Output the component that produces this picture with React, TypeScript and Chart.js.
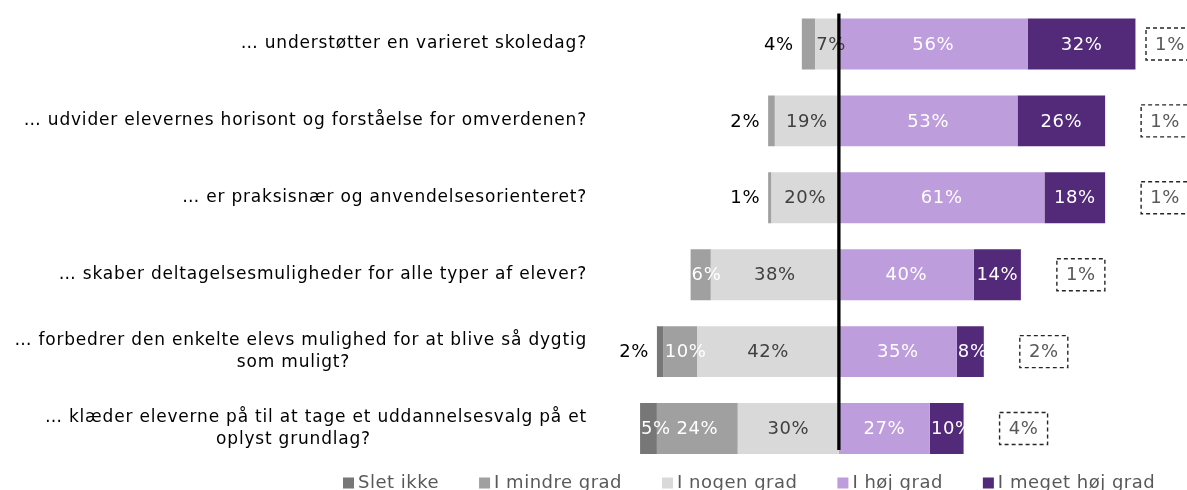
import React, { useEffect, useRef } from "react";
import { Chart, registerables } from "chart.js";

Chart.register(...registerables);

const categories: string[][] = [
  ["… understøtter en varieret skoledag?"],
  ["… udvider elevernes horisont og forståelse for omverdenen?"],
  ["… er praksisnær og anvendelsesorienteret?"],
  ["… skaber deltagelsesmuligheder for alle typer af elever?"],
  ["… forbedrer den enkelte elevs mulighed for at blive så dygtig", "som muligt?"],
  ["… klæder eleverne på til at tage et uddannelsesvalg på et", "oplyst grundlag?"],
];

const seriesNames = ["Slet ikke", "I mindre grad", "I nogen grad", "I høj grad", "I meget høj grad"];
const sletIkke = [0, 0, 0, 0, 2, 5];
const iMindreGrad = [4, 2, 1, 6, 10, 24];
const iNogenGrad = [7, 19, 20, 38, 42, 30];
const iHoejGrad = [56, 53, 61, 40, 35, 27];
const iMegetHoejGrad = [32, 26, 18, 14, 8, 10];
const vedIkke = [1, 1, 1, 1, 2, 4];

const seriesColors = ["#777777", "#A0A0A0", "#D9D9D9", "#BE9DDD", "#53297A"];
const FONT = '"DejaVu Sans", Verdana, sans-serif';

function setSpacing(ctx: any, px: number) {
  if ("letterSpacing" in ctx) ctx.letterSpacing = px + "px";
}

const overlayPlugin = {
  id: "overlay",
  afterDatasetsDraw(chart: any) {
    const ctx = chart.ctx;
    const xs = chart.scales.x;
    ctx.save();
    ctx.font = `18px ${FONT}`;
    setSpacing(ctx, 0.6);
    ctx.textBaseline = "middle";
    const negSeries = [iNogenGrad, iMindreGrad, sletIkke];
    chart.data.datasets.forEach((ds: any, di: number) => {
      const meta = chart.getDatasetMeta(di);
      meta.data.forEach((el: any, i: number) => {
        const v = ds.data[i];
        if (!v) return;
        const left = Math.min(el.x, el.base);
        const right = Math.max(el.x, el.base);
        const txt = Math.abs(v) + "%";
        let leftmost = -1;
        negSeries.forEach((s, k) => {
          if (s[i] > 0) leftmost = k;
        });
        const outside = v < 0 && ds.negIndex === leftmost && Math.abs(v) < 5;
        const tw = ctx.measureText(txt).width;
        if (outside) {
          ctx.fillStyle = "#000000";
          ctx.textAlign = "left";
          ctx.fillText(txt, left - 8 - tw, el.y + 1);
        } else {
          ctx.fillStyle = ds.labelColor;
          ctx.textAlign = "left";
          let tx = (left + right) / 2 - tw / 2;
          if (tx < left + 1) tx = left + 1;
          ctx.fillText(txt, tx, el.y + 1);
        }
      });
    });
    // center line
    const m0 = chart.getDatasetMeta(0);
    const first = m0.data[0];
    const last = m0.data[m0.data.length - 1];
    const zx = xs.getPixelForValue(0);
    ctx.beginPath();
    ctx.strokeStyle = "#000000";
    ctx.lineWidth = 3.3;
    ctx.moveTo(zx, first.y - first.height / 2 - 5);
    ctx.lineTo(zx, last.y + last.height / 2 - 4);
    ctx.stroke();
    ctx.restore();
  },
  afterDraw(chart: any) {
    const ctx = chart.ctx;
    const xs = chart.scales.x;
    const ys = chart.scales.y;
    ctx.save();
    // Ved ikke boxes
    ctx.font = `18px ${FONT}`;
    setSpacing(ctx, 0.6);
    ctx.textBaseline = "middle";
    ctx.textAlign = "left";
    vedIkke.forEach((v, i) => {
      const total = iHoejGrad[i] + iMegetHoejGrad[i];
      const cy = ys.getPixelForValue(i);
      const bw = 48;
      const bh = 32;
      let bx = xs.getPixelForValue(total) + 36;
      bx = Math.min(bx, chart.width - 41);
      ctx.setLineDash([4, 3]);
      ctx.lineWidth = 1.4;
      ctx.strokeStyle = "#262626";
      ctx.strokeRect(bx, cy - bh / 2, bw, bh);
      ctx.setLineDash([]);
      ctx.fillStyle = "#595959";
      const t = v + "%";
      const tw = ctx.measureText(t).width;
      ctx.fillText(t, bx + bw / 2 - tw / 2, cy + 1);
    });
    // category labels
    ctx.font = `17px ${FONT}`;
    setSpacing(ctx, 0.8);
    ctx.fillStyle = "#000000";
    ctx.textAlign = "left";
    const labelRight = chart.chartArea.left - 16;
    categories.forEach((lines, i) => {
      const cy = ys.getPixelForValue(i);
      const lh = 21.5;
      lines.forEach((ln, k) => {
        const y = cy + (k - (lines.length - 1) / 2) * lh;
        const w = ctx.measureText(ln).width;
        if (k === 0) {
          ctx.fillText(ln, labelRight - w, y);
        } else {
          ctx.fillText(ln, labelRight / 2 - w / 2, y);
        }
      });
    });
    // legend
    ctx.font = `18px ${FONT}`;
    setSpacing(ctx, 0.5);
    ctx.textAlign = "left";
    let x = 343;
    const ly = 483;
    seriesNames.forEach((name, k) => {
      ctx.fillStyle = seriesColors[k];
      ctx.fillRect(x, ly - 5.5, 11, 11);
      ctx.fillStyle = "#595959";
      ctx.fillText(name, x + 15, ly);
      x += 15 + ctx.measureText(name).width + 40;
    });
    ctx.restore();
  },
};

export default function App() {
  const ref = useRef<HTMLCanvasElement>(null);
  useEffect(() => {
    document.body.style.margin = "0";
    const canvas = ref.current!;
    const chart = new Chart(canvas, {
      type: "bar",
      data: {
        labels: categories.map((c) => c.join(" ")),
        datasets: [
          { label: seriesNames[2], data: iNogenGrad.map((v) => -v), backgroundColor: seriesColors[2], labelColor: "#404040", negIndex: 0 } as any,
          { label: seriesNames[1], data: iMindreGrad.map((v) => -v), backgroundColor: seriesColors[1], labelColor: "#FFFFFF", negIndex: 1 } as any,
          { label: seriesNames[0], data: sletIkke.map((v) => -v), backgroundColor: seriesColors[0], labelColor: "#FFFFFF", negIndex: 2 } as any,
          { label: seriesNames[3], data: iHoejGrad, backgroundColor: seriesColors[3], labelColor: "#FFFFFF", negIndex: -1 } as any,
          { label: seriesNames[4], data: iMegetHoejGrad, backgroundColor: seriesColors[4], labelColor: "#FFFFFF", negIndex: -1 } as any,
        ],
      },
      options: {
        animation: false,
        responsive: false,
        indexAxis: "y",
        layout: { padding: { left: 603, right: 1, top: 5.5, bottom: 23 } },
        datasets: { bar: { barPercentage: 1, categoryPercentage: 0.663 } },
        scales: {
          x: { stacked: true, min: -70, max: 103, display: false },
          y: { stacked: true, display: false, offset: true },
        },
        plugins: { legend: { display: false }, tooltip: { enabled: false } },
      } as any,
      plugins: [overlayPlugin],
    });
    return () => chart.destroy();
  }, []);
  return (
    <div style={{ width: 1187, height: 490 }}>
      <canvas ref={ref} width={1187} height={490} style={{ display: "block" }} />
    </div>
  );
}
